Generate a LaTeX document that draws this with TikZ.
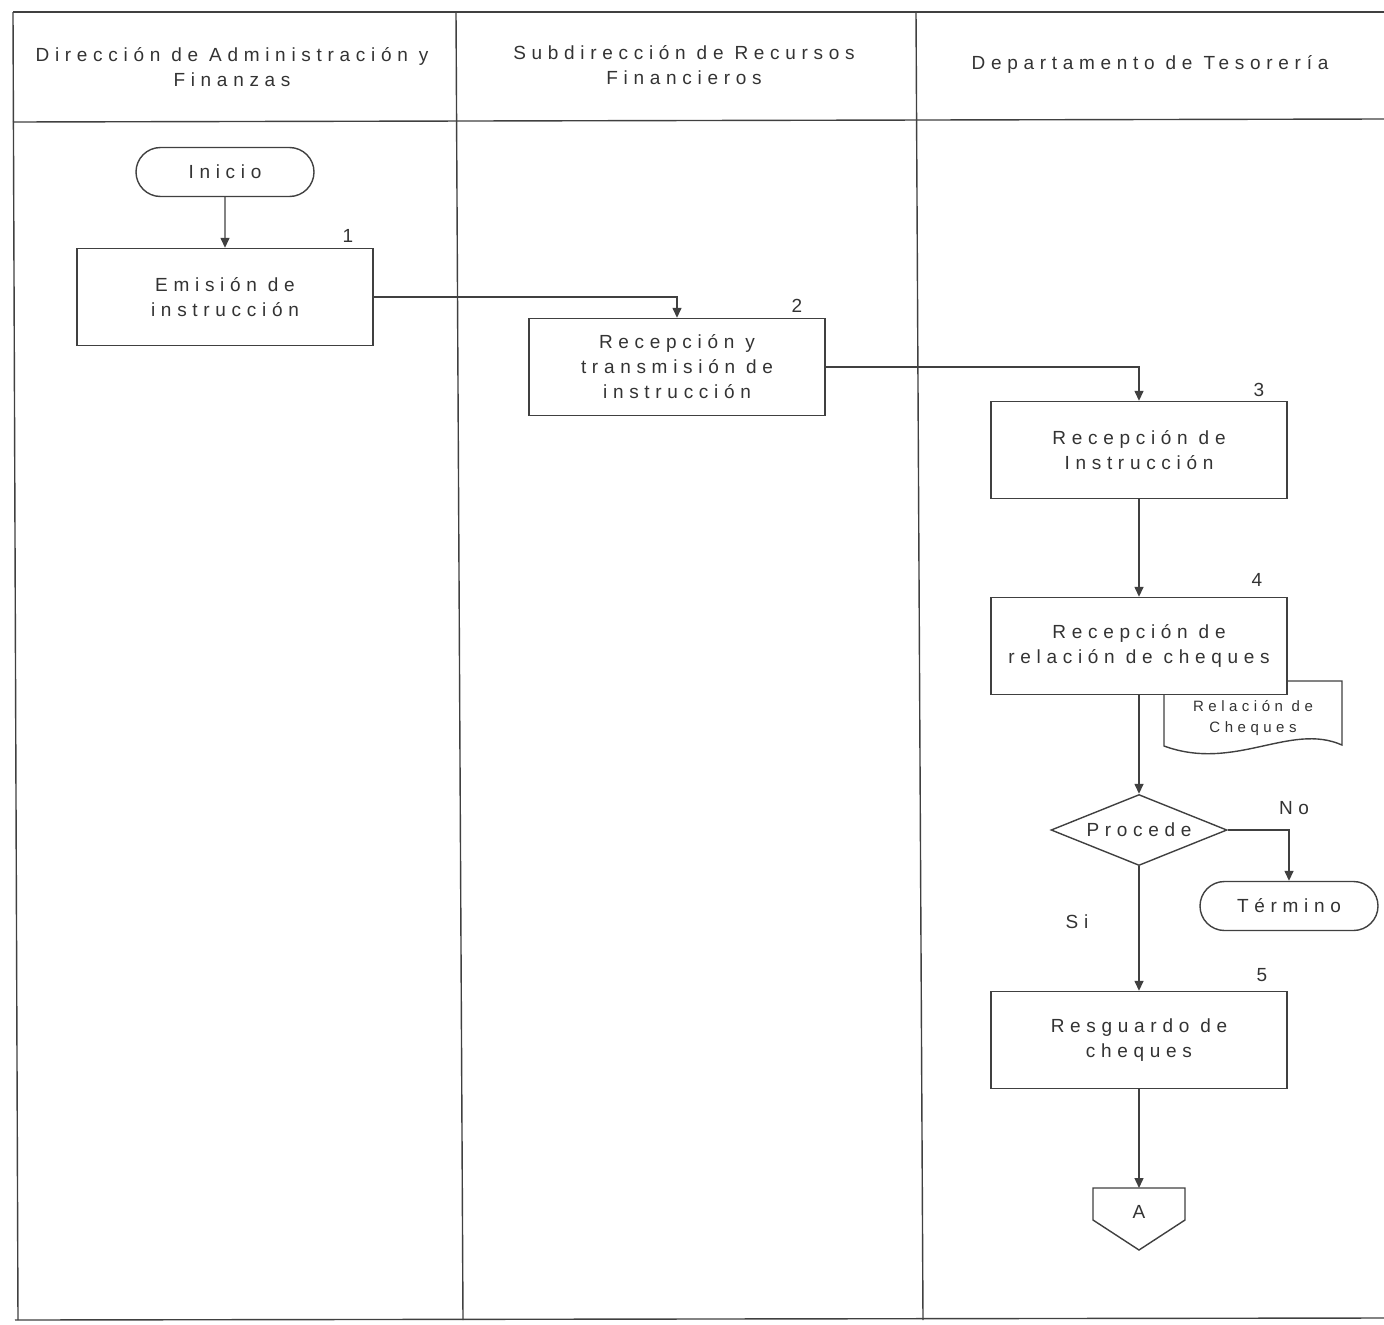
\documentclass[tikz,border=0pt]{standalone}
\usepackage{fontspec}
\setmainfont{Liberation Sans}
\newfontfamily\spacedfont[LetterSpace=30]{Liberation Sans}
\usepackage{tikz}
\usetikzlibrary{
  shapes.geometric, shapes.misc, arrows.meta, calc
}
\definecolor{lineclr}{HTML}{404040}
\definecolor{textclr}{HTML}{333333}
\newcommand{\boxfont}{\spacedfont\fontsize{19}{25}\selectfont}
\newcommand{\smallboxfont}{\spacedfont\fontsize{15}{21}\selectfont}
\tikzstyle{process} = [
  rectangle, draw=lineclr, fill=white, line width=1.4pt,
  minimum width=296pt, minimum height=97pt, inner sep=0pt,
  align=center, text=textclr, font=\boxfont
]
\tikzstyle{terminal} = [
  rounded rectangle, draw=lineclr, fill=white, line width=1.4pt,
  minimum width=178pt, minimum height=49pt, inner sep=0pt,
  text=textclr, font=\boxfont
]
\tikzstyle{decision} = [
  diamond, draw=lineclr, fill=white, line width=1.4pt,
  minimum width=176pt, minimum height=71pt, inner sep=0pt,
  text=textclr, font=\boxfont
]
\tikzstyle{lanetitle} = [align=center, text=textclr, font=\boxfont]
\tikzstyle{stepnum} = [text=textclr, font=\boxfont]
\tikzstyle{lane} = [draw=lineclr, line width=1.4pt]
\tikzstyle{arrow} = [-{Triangle[length=10pt,width=9pt]}, draw=lineclr, line width=1.4pt]

\begin{document}
\begin{tikzpicture}[x=1pt, y=-1pt]
  \useasboundingbox (0,0) rectangle (1384,1325);

  % Swimlanes
  \draw[lane] (13,12) -- (1384,12);
  \draw[lane] (13,122) -- (1384,119);
  \draw[lane] (15,1320) -- (1384,1318);
  \draw[lane] (13,12) -- (18,1320);
  \draw[lane] (456,12) -- (463,1320);
  \draw[lane] (916,12) -- (923,1320);

  % Lane titles
  \node[lanetitle] (hdaf) at (232,67) {Dirección de Administración y\\Finanzas};
  \node[lanetitle] (hsrf) at (684,65) {Subdirección de Recursos\\Financieros};
  \node[lanetitle] (hdt) at (1150,64) {Departamento de Tesorería};

  % Direccion de Administracion y Finanzas
  \node[terminal] (inicio) at (225,172) {Inicio};
  \node[process] (emision) at (225,297) {Emisión de\\instrucción};
  \node[stepnum] (num1) at (348,236) {1};

  % Subdireccion de Recursos Financieros
  \node[process] (transm) at (677,367) {Recepción y\\transmisión de\\instrucción};
  \node[stepnum] (num2) at (797,306) {2};

  % Departamento de Tesoreria
  \node[process] (recinst) at (1139,450) {Recepción de\\Instrucción};
  \node[stepnum] (num3) at (1259,390) {3};

  % Relacion de cheques (document)
  \draw[draw=lineclr, fill=white, line width=1.4pt]
    (1164,681) -- (1342,681) -- (1342,745)
    .. controls (1290,722) and (1235,772) .. (1164,746) -- cycle;
  \node[text=textclr, font=\smallboxfont, align=center] (docrel) at (1253,718) {Relación de\\Cheques};

  \node[process] (relcheq) at (1139,646) {Recepción de\\relación de cheques};
  \node[stepnum] (num4) at (1257,580) {4};

  \node[decision] (procede) at (1139,830) {\makebox[0pt]{Procede}};
  \node[terminal] (termino) at (1289,906) {Término};

  \node[process] (resguardo) at (1139,1040) {Resguardo de\\cheques};
  \node[stepnum] (num5) at (1262,975) {5};

  % Off-page connector
  \draw[draw=lineclr, fill=white, line width=1.4pt]
    (1093,1188) -- (1185,1188) -- (1185,1220) -- (1139,1250) -- (1093,1220) -- cycle;
  \node[stepnum] (conA) at (1139,1212) {A};
  \coordinate (conAtop) at (1139,1188);

  % Connections
  \draw[arrow] (inicio) -- (emision);
  \draw[arrow] (emision.east) -| (transm.north);
  \draw[arrow] (transm.east) -| (recinst.north);
  \draw[arrow] (recinst) -- (relcheq);
  \draw[arrow] (relcheq) -- (procede);
  \draw[arrow] (procede.east) -| (termino.north);
  \draw[arrow] (procede) -- (resguardo);
  \draw[arrow] (resguardo) -- (conAtop);

  % Labels
  \node[stepnum] (lblno) at (1294,808) {No};
  \node[stepnum] (lblsi) at (1077,922) {Si};

\end{tikzpicture}
\end{document}
